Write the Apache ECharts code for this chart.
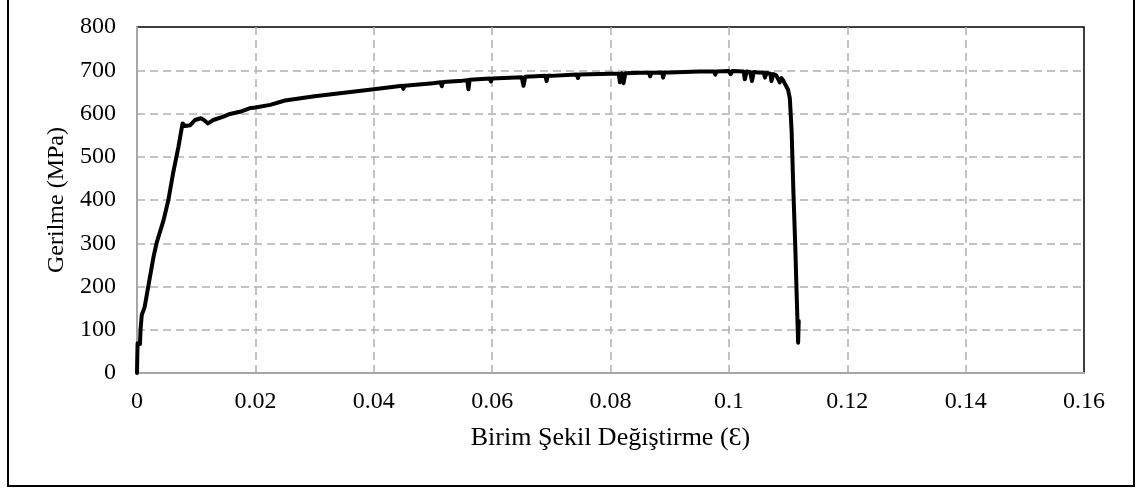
<!DOCTYPE html>
<html>
<head>
<meta charset="utf-8">
<script src="https://cdn.jsdelivr.net/npm/echarts@6/dist/echarts.min.js"></script>
<style>
html,body{margin:0;padding:0;background:#fff;}
#c{width:1138px;height:488px;}
</style>
</head>
<body>
<div id="c"></div>
<script>
// Strain (ε) values
const strain = [
  0, 0.00005, 0.0001, 0.0005, 0.0006, 0.0008, 0.0013, 0.0019, 0.0028, 0.0033,
  0.0045, 0.0053, 0.0061, 0.0070, 0.0077, 0.0081, 0.0090, 0.0098, 0.0108, 0.0113,
  0.0120, 0.0129, 0.0146, 0.0157, 0.0174, 0.0190, 0.0200, 0.0225, 0.0250, 0.0300,
  0.0350, 0.0400, 0.0448, 0.0450, 0.0452, 0.0500, 0.0513, 0.0515, 0.0517, 0.0550,
  0.0558, 0.0560, 0.0562, 0.0596, 0.0598, 0.0600, 0.0650, 0.0653, 0.0656, 0.0690,
  0.0692, 0.0694, 0.0700, 0.0743, 0.0745, 0.0747, 0.0750, 0.0800, 0.0814, 0.0816,
  0.0819, 0.0822, 0.0825, 0.0850, 0.0865, 0.0867, 0.0869, 0.0887, 0.0889, 0.0891,
  0.0900, 0.0950, 0.0975, 0.0977, 0.0979, 0.1000, 0.1003, 0.1006, 0.1025, 0.1027,
  0.1030, 0.1036, 0.1039, 0.1042, 0.1050, 0.1059, 0.1061, 0.1064, 0.1070, 0.1072,
  0.1075, 0.1080, 0.1086, 0.1089, 0.1092, 0.1095, 0.1100, 0.1103, 0.1106, 0.1109,
  0.1112, 0.1115, 0.1117, 0.1118
];
// Stress (MPa) values
const stress = [
  0, 40, 69, 67, 100, 134, 153, 200, 269, 300,
  354, 400, 462, 523, 577, 571, 573, 585, 589, 585,
  577, 585, 593, 599, 604, 612, 614, 620, 630, 640,
  648, 656, 664, 657, 664, 670, 672, 663, 673, 676,
  677, 656, 678, 681, 674, 681, 684, 664, 685, 687,
  675, 687, 687, 690, 682, 690, 690, 692, 692, 672,
  693, 670, 693, 694, 694, 686, 694, 695, 683, 695,
  695, 697, 697, 690, 697, 698, 691, 698, 697, 679,
  697, 696, 675, 696, 695, 694, 683, 694, 692, 675,
  691, 688, 672, 682, 676, 668, 655, 635, 560, 420,
  300, 160, 70, 120
];
const xTicks = [0, 0.02, 0.04, 0.06, 0.08, 0.1, 0.12, 0.14, 0.16];
const yTicks = [0, 100, 200, 300, 400, 500, 600, 700, 800];

const points = strain.map((s, i) => [s, stress[i]]);
const FONT = '"Liberation Serif", "Times New Roman", serif';

const chart = echarts.init(document.getElementById('c'), null, {renderer: 'canvas'});
chart.setOption({
  animation: false,
  backgroundColor: '#fff',
  grid: {
    left: 137, right: 54, top: 27, bottom: 115,
    show: true, borderColor: '#000', borderWidth: 1.5, backgroundColor: 'transparent'
  },
  xAxis: {
    type: 'value',
    min: xTicks[0], max: xTicks[xTicks.length - 1], interval: 0.02,
    name: 'Birim Şekil Değiştirme (Ɛ)',
    nameLocation: 'middle', nameGap: 52,
    nameTextStyle: {fontFamily: FONT, fontSize: 26, color: '#000'},
    axisLine: {show: true, onZero: false, lineStyle: {color: '#a6a6a6', width: 2}},
    axisTick: {show: false},
    axisLabel: {
      fontFamily: FONT, fontSize: 24, color: '#000', margin: 17,
      formatter: v => String(parseFloat(v.toFixed(2)))
    },
    splitLine: {show: true, showMinLine: false, showMaxLine: false,
      lineStyle: {color: '#b0b0b0', width: 1.5, type: [8, 5]}}
  },
  yAxis: {
    type: 'value',
    min: yTicks[0], max: yTicks[yTicks.length - 1], interval: 100,
    name: 'Gerilme (MPa)',
    nameLocation: 'middle', nameGap: 56, nameRotate: 90,
    nameTextStyle: {fontFamily: FONT, fontSize: 24, color: '#000'},
    axisLine: {show: true, lineStyle: {color: '#a6a6a6', width: 2}},
    axisTick: {show: false},
    axisLabel: {fontFamily: FONT, fontSize: 24, color: '#000', margin: 21},
    splitLine: {show: true, showMinLine: false, showMaxLine: false,
      lineStyle: {color: '#b0b0b0', width: 1.5, type: [8, 5]}}
  },
  series: [{
    type: 'line',
    data: points,
    showSymbol: false,
    smooth: false,
    lineStyle: {color: '#000', width: 4, join: 'round', cap: 'round'},
    z: 5
  }],
  graphic: [{
    type: 'rect',
    shape: {x: 8, y: -3, width: 1126, height: 489},
    style: {fill: 'none', stroke: '#000', lineWidth: 2},
    silent: true
  }]
});
</script>
</body>
</html>
